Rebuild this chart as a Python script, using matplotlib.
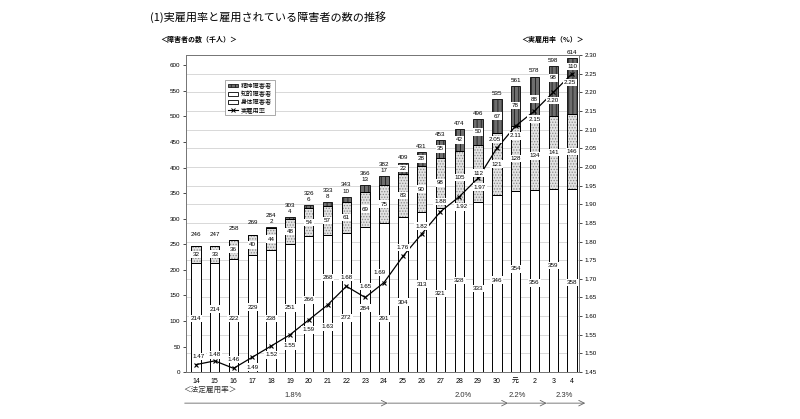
import numpy as np
import matplotlib
matplotlib.use("Agg")
import matplotlib.pyplot as plt
from matplotlib.patches import Patch
from matplotlib.lines import Line2D
import matplotlib.transforms as mtransforms

plt.rcParams['font.family'] = ['Liberation Sans', 'Noto Sans CJK JP']
plt.rcParams['hatch.linewidth'] = 0.6

# データ（千人 / %）
years = ['14', '15', '16', '17', '18', '19', '20', '21', '22', '23', '24',
         '25', '26', '27', '28', '29', '30', '元', '2', '3', '4']
physical = [214, 214, 222, 229, 238, 251, 266, 268, 272, 284, 291,
            304, 313, 321, 328, 333, 346, 354, 356, 359, 358]
intellectual = [32, 33, 36, 40, 44, 48, 54, 57, 61, 69, 75,
                83, 90, 98, 105, 112, 121, 128, 134, 141, 146]
mental = [0, 0, 0, 0, 2, 4, 6, 8, 10, 13, 17,
          22, 28, 35, 42, 50, 67, 78, 88, 98, 110]
total = [246, 247, 258, 269, 284, 303, 326, 333, 343, 366, 382,
         409, 431, 453, 474, 496, 535, 561, 578, 598, 614]
rate = [1.47, 1.48, 1.46, 1.49, 1.52, 1.55, 1.59, 1.63, 1.68, 1.65, 1.69,
        1.76, 1.82, 1.88, 1.92, 1.97, 2.05, 2.11, 2.15, 2.20, 2.25]
legal_rates = ['1.8%', '2.0%', '2.2%', '2.3%']

# ラベル位置の調整（見た目用）
phys_frac = [0.49, 0.575, 0.47, 0.555, 0.44, 0.50, 0.53, 0.69, 0.39, 0.44, 0.36,
             0.45, 0.55, 0.48, 0.545, 0.49, 0.52, 0.57, 0.49, 0.58, 0.49]
ment_frac = [0.5] * 19 + [0.77, 0.85]
rate_off = [(3, -8), (0, -6), (0, -9), (0, 10), (0, 9), (0, 11), (0, 10), (0, 22),
            (0, -9), (0, -11), (-4, -10), (0, -9), (0, -8), (0, -10), (2, 10),
            (2, 9), (-2, -9), (0, 10), (0, 8), (0, 8), (-2, 9)]
legal_edges = [-0.6, 10.2, 16.6, 18.65, 20.7]
legal_text_x = [5.16, 14.2, 17.1, 19.6]

x = np.arange(len(years))
p = np.array(physical)
it = np.array(intellectual)
m = np.array(mental)

fig = plt.figure(figsize=(8, 4.19), dpi=100)
ax = fig.add_axes([0.2325, 0.112, 0.49125, 0.7566])

w = 0.5
ax.bar(x, p, width=w, color='white', edgecolor='black', lw=0.7, zorder=2)
ax.bar(x, it, bottom=p, width=w, color='#e2e2e2', edgecolor='#8a8a8a', hatch='......', lw=0, zorder=2)
ax.bar(x, it, bottom=p, width=w, fill=False, edgecolor='black', lw=0.7, zorder=3)
ax.bar(x, m, bottom=p + it, width=w, color='#6e6e6e', edgecolor='#1a1a1a', hatch='||||', lw=0.7, zorder=2)

ax.set_xlim(-0.53, 20.37)
ax.set_ylim(0, 620)
ax.set_yticks(np.arange(0, 601, 50))
ax.set_yticks(np.linspace(0, 620, 18), minor=True)
ax.grid(which='minor', axis='y', color='#d2d2d2', lw=0.6)
ax.set_axisbelow(True)
ax.tick_params(axis='y', which='major', labelsize=4.5, length=2, width=0.5, pad=2)
ax.tick_params(axis='y', which='minor', length=0)
ax.set_xticks(x)
ax.set_xticklabels(years)
ax.tick_params(axis='x', labelsize=5, length=0, pad=4)
for s in ax.spines.values():
    s.set_color('#777777')
    s.set_linewidth(0.7)

ax2 = ax.twinx()
ax2.plot(x, rate, color='black', lw=0.9, marker='x', ms=3, mew=0.8, zorder=3)
ax2.set_ylim(1.45, 2.30)
ax2.set_yticks(np.arange(1.45, 2.301, 0.05))
ax2.set_yticklabels([f"{v:.2f}" for v in np.arange(1.45, 2.301, 0.05)])
ax2.tick_params(axis='y', labelsize=4.5, length=2, width=0.5, pad=2)
for s in ax2.spines.values():
    s.set_color('#777777')
    s.set_linewidth(0.7)

box = dict(boxstyle='square,pad=0.2', fc='white', ec='none')
tkw = dict(ha='center', va='center', fontsize=4.5, zorder=6, transform=ax.transData)

for i in range(len(years)):
    ax2.text(x[i], p[i] * phys_frac[i], str(physical[i]), bbox=box, **tkw)
    ax2.text(x[i], p[i] + it[i] / 2, str(intellectual[i]), bbox=box, **tkw)
    top = p[i] + it[i] + m[i]
    if m[i] > 0:
        if m[i] < 20:
            ax2.text(x[i], top + 11, str(mental[i]), **tkw)
        else:
            ax2.text(x[i], p[i] + it[i] + m[i] * ment_frac[i], str(mental[i]), bbox=box, **tkw)
    ax2.text(x[i], top + (23 if m[i] < 20 else 11), str(total[i]), clip_on=False, **tkw)
    dx, dy = rate_off[i]
    ax2.annotate(f"{rate[i]:.2f}", (x[i], rate[i]), xytext=(dx, -dy),
                 textcoords='offset pixels', ha='center', va='center',
                 fontsize=4.5, bbox=box, zorder=7)

handles = [Patch(facecolor='#6e6e6e', edgecolor='#1a1a1a', hatch='||||', lw=0.6),
           Patch(facecolor='white', edgecolor='black', lw=0.6),
           Patch(facecolor='white', edgecolor='black', lw=0.6),
           Line2D([], [], color='black', lw=0.8, marker='x', ms=2.5, mew=0.7)]
leg = ax2.legend(handles, ['精神障害者', '知的障害者', '身体障害者', '実雇用率'],
                 loc='upper left', bbox_to_anchor=(0.092, 0.93), fontsize=4.5,
                 handlelength=1.7, handleheight=0.5, handletextpad=0.4,
                 labelspacing=0.3, borderpad=0.4, fancybox=False, framealpha=1)
leg.get_frame().set_edgecolor('#888888')
leg.get_frame().set_linewidth(0.5)
leg.set_zorder(10)

# 法定雇用率の矢印
tr = mtransforms.blended_transform_factory(ax.transData, ax.transAxes)
for k, lab in enumerate(legal_rates):
    ax.annotate('', xy=(legal_edges[k + 1], -0.098), xytext=(legal_edges[k], -0.098),
                xycoords=tr, textcoords=tr,
                arrowprops=dict(arrowstyle='->', color='#666666', lw=0.6,
                                shrinkA=0, shrinkB=0))
    ax.text(legal_text_x[k], -0.073, lab, transform=tr, ha='center', va='center',
            fontsize=5.5, color='#333333')

fig.text(0.1875, 0.959, '(1)実雇用率と雇用されている障害者の数の推移',
         fontsize=8, ha='left', va='center', family='Noto Sans CJK JP')
fig.text(0.2, 0.905, '＜障害者の数（千人）＞', fontsize=5, fontweight='bold',
         ha='left', va='center', family='Noto Sans CJK JP')
fig.text(0.691, 0.905, '＜実雇用率（%）＞', fontsize=5, fontweight='bold',
         ha='center', va='center', family='Noto Sans CJK JP')
fig.text(0.229, 0.069, '＜法定雇用率＞', fontsize=5.5, ha='left', va='center',
         family='Noto Sans CJK JP', color='#333333')

fig.savefig('out.png', dpi=100)
